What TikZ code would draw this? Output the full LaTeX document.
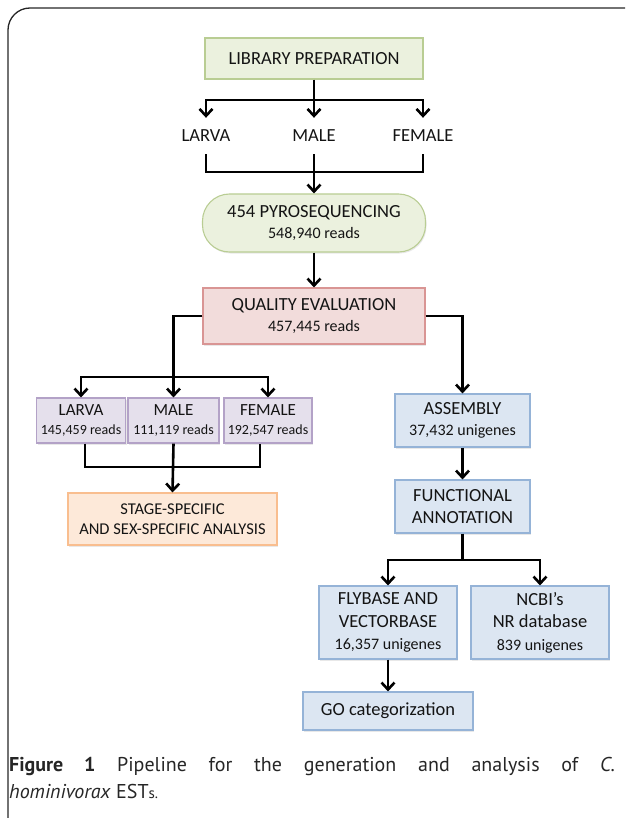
\documentclass[tikz,border=0pt]{standalone}
\usepackage{fontspec}
\setmainfont{Carlito}
\newfontfamily\capfont{PT Sans}
\usetikzlibrary{arrows.meta}
\usetikzlibrary{shadows}
\usetikzlibrary{calc}

\definecolor{greenfill}{HTML}{EBF1DE}
\definecolor{greenline}{HTML}{B9CD93}
\definecolor{redfill}{HTML}{F2DCDB}
\definecolor{redline}{HTML}{D99594}
\definecolor{violetfill}{HTML}{E5E0EC}
\definecolor{violetline}{HTML}{B3A2C7}
\definecolor{orangefill}{HTML}{FDE9D9}
\definecolor{orangeline}{HTML}{F9BE8F}
\definecolor{bluefill}{HTML}{DCE6F2}
\definecolor{blueline}{HTML}{95B3D7}

\newcommand{\boxsub}[1]{{\fontsize{16}{21}\selectfont #1}}
\newcommand{\boxsmall}[1]{{\fontsize{14}{19}\selectfont #1}}

\begin{document}
\begin{tikzpicture}[x=1pt,y=-1pt]
		\tikzset{box/.style = {shape=rectangle,draw,line width=1.1pt,align=center,inner sep=0pt,text=black!92,
				font=\fontsize{18.5}{21}\selectfont,
				drop shadow={opacity=0.18,shadow xshift=1pt,shadow yshift=-1.5pt}}}
		\tikzset{word/.style = {draw=none,inner sep=0pt,minimum height=36pt,text=black!92,font=\fontsize{18.5}{21}\selectfont}}
		\tikzset{greenbox/.style = {fill=greenfill,draw=greenline}}
		\tikzset{redbox/.style = {fill=redfill,draw=redline}}
		\tikzset{violetbox/.style = {fill=violetfill,draw=violetline,font=\fontsize{17}{19}\selectfont}}
		\tikzset{orangebox/.style = {fill=orangefill,draw=orangeline,font=\fontsize{16.5}{19.5}\selectfont}}
		\tikzset{bluebox/.style = {fill=bluefill,draw=blueline}}
		\tikzset{edge/.style = {-{Straight Barb[length=7pt,width=13pt]},line width=2.6pt}}
		\tikzset{link/.style = {line width=2.6pt}}
		\useasboundingbox (0,0) rectangle (625,818);
		
		% frame
		\draw[line width=1.3pt,black!85,rounded corners=22pt] (8,818) -- (8,8) -- (625,8);
		
		% vertices
		\node[box,greenbox,minimum width=218pt,minimum height=41pt] (lib) at (314,58.5) {LIBRARY PREPARATION};
		
		\node[word] (larva) at (206,136) {LARVA};
		\node[word] (male) at (314,136) {MALE};
		\node[word] (female) at (423,136) {FEMALE};
		
		\node[box,greenbox,rounded corners=27pt,minimum width=223pt,minimum height=58pt] (pyro) at (314,223) {454 PYROSEQUENCING\\ \boxsub{548,940 reads}};
		\node[box,redbox,minimum width=222pt,minimum height=56pt] (qe) at (314,316) {QUALITY EVALUATION\\ \boxsub{457,445 reads}};
		
		\node[box,violetbox,minimum width=89pt,minimum height=45pt] (larvab) at (81,420.5) {LARVA\\ \boxsmall{145,459 reads}};
		\node[box,violetbox,minimum width=91pt,minimum height=45pt] (maleb) at (173.5,420.5) {MALE\\ \boxsmall{111,119 reads}};
		\node[box,violetbox,minimum width=88pt,minimum height=45pt] (femaleb) at (268,420.5) {FEMALE\\ \boxsmall{192,547 reads}};
		\node[box,orangebox,minimum width=209pt,minimum height=52pt] (stage) at (172.5,519) {STAGE-SPECIFIC\\ AND SEX-SPECIFIC ANALYSIS};
		
		\node[box,bluebox,minimum width=135pt,minimum height=53pt] (assembly) at (462.5,420.5) {ASSEMBLY\\ \boxsub{37,432 unigenes}};
		\node[box,bluebox,minimum width=135pt,minimum height=53pt,font=\fontsize{18.5}{22}\selectfont] (func) at (462.5,506.5) {FUNCTIONAL\\ ANNOTATION};
		\node[box,bluebox,minimum width=138pt,minimum height=73pt,font=\fontsize{18.5}{22.5}\selectfont] (fly) at (388,622.5) {FLYBASE AND\\ VECTORBASE\\ {\fontsize{16}{22.5}\selectfont 16,357 unigenes}};
		\node[box,bluebox,minimum width=138pt,minimum height=73pt,font=\fontsize{18.5}{22.5}\selectfont] (ncbi) at (540,622.5) {NCBI’s\\ NR database\\ {\fontsize{16}{22.5}\selectfont 839 unigenes}};
		\node[box,bluebox,minimum width=170pt,minimum height=38pt] (go) at (388,711) {GO categorization};
		
		\coordinate (s1) at (314,100);
		\coordinate (m1) at (314,172);
		\coordinate (s2) at (173.5,377);
		\coordinate (m2) at (173.5,467);
		\coordinate (s3) at (462.5,560);
		
		%edges
		\draw[edge] (lib.south) -- (male.north);
		\draw[edge] (s1) -| (larva.north);
		\draw[edge] (s1) -| (female.north);
		
		\draw[link] (larva.south) -- (larva.south |- m1) -- (female.south |- m1) -- (female.south);
		\draw[edge] (male.south) -- (pyro.north);
		
		\draw[edge] (pyro) -- (qe);
		
		\draw[edge] (qe.west) -| (maleb.north);
		\draw[edge] (s2) -| (larvab.north);
		\draw[edge] (s2) -| (femaleb.north);
		\draw[edge] (qe.east) -| (assembly.north);
		
		\draw[link] ([xshift=4pt]larvab.south) -- ([xshift=4pt]larvab.south |- m2) -- ([xshift=-8pt]femaleb.south |- m2) -- ([xshift=-8pt]femaleb.south);
		\draw[edge] (maleb.south) -- (stage.north);
		
		\draw[edge] (assembly) -- (func);
		\draw[link] (func.south) -- (s3);
		\draw[edge] (s3) -| (fly.north);
		\draw[edge] (s3) -| (ncbi.north);
		\draw[edge] (fly) -- (go);
		
		\node[anchor=north west,inner sep=0pt,text width=606pt,align=justify,text=black!85,font=\capfont\fontsize{20}{27}\selectfont] (caption) at (9,757) {\textbf{Figure 1} Pipeline for the generation and analysis of \textit{C.}\linebreak \textit{hominivorax} EST{\fontsize{15}{27}\selectfont s.}};
		
\end{tikzpicture}
\end{document}
